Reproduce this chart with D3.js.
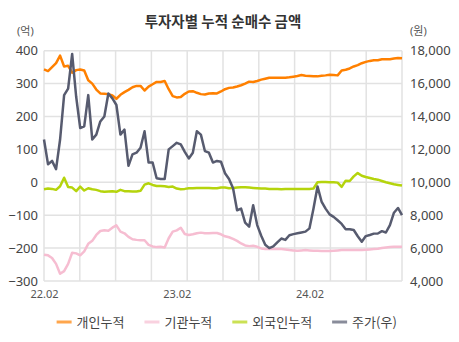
<!DOCTYPE html>
<html>
<head>
<meta charset="utf-8">
<script src="https://cdn.jsdelivr.net/npm/d3@7"></script>
<style>
  body { margin: 0; background: #fff; }
  svg { display: block; }
</style>
</head>
<body>
<svg id="chart" width="459" height="342"></svg>
<script>
// Cumulative net buying (억원) by investor type, plus the share price (원, right axis)
const individual = [343, 338, 350, 362, 385, 352, 354, 333, 341, 343,
  340, 310, 300, 282, 270, 269, 268, 264, 254, 266,
  274, 281, 289, 293, 293, 279, 291, 298, 305, 305,
  308, 283, 262, 258, 259, 269, 276, 277, 272, 268,
  267, 270, 271, 270, 276, 283, 287, 288, 291, 295,
  300, 306, 305, 308, 312, 315, 318, 318, 318, 318,
  318, 319, 321, 323, 326, 324, 323, 322, 322, 324,
  325, 327, 326, 325, 340, 342, 346, 352, 356, 362,
  366, 369, 371, 371, 374, 374, 374, 376, 378, 377];

const institution = [-220, -222, -230, -248, -278, -270, -248, -214, -216, -222,
  -210, -187, -178, -160, -148, -146, -147, -138, -131, -150,
  -155, -166, -173, -175, -176, -176, -190, -195, -197, -196,
  -198, -170, -150, -146, -138, -157, -160, -158, -155, -153,
  -155, -155, -154, -154, -158, -164, -167, -172, -178, -186,
  -192, -194, -193, -196, -201, -203, -203, -203, -203, -203,
  -204, -206, -207, -208, -207, -206, -207, -208, -208, -209,
  -209, -209, -208, -207, -206, -206, -206, -206, -206, -206,
  -205, -204, -203, -202, -200, -198, -197, -196, -196, -196];

const foreign = [-21, -19, -20, -23, -12, 14, -14, -16, -27, -13,
  -25, -18, -21, -23, -27, -29, -28, -27, -29, -23,
  -27, -27, -28, -28, -26, -7, -3, -8, -11, -11,
  -12, -14, -13, -19, -21, -20, -18, -18, -17, -17,
  -17, -17, -18, -18, -16, -16, -18, -17, -16, -15,
  -15, -16, -17, -18, -19, -19, -20, -20, -20, -21,
  -20, -20, -20, -20, -20, -20, -20, -19, 0, 1,
  1, 0, 0, -1, -14, 5, 4, 18, 28, 20,
  16, 13, 10, 8, 4, 0, -3, -6, -8, -10];

const price = [12600, 11100, 11300, 10800, 12600, 15300, 15700, 17800, 15200, 13300,
  13400, 15300, 12600, 12900, 13700, 14000, 15400, 15100, 14700, 12900,
  13200, 11000, 11700, 11800, 12100, 13100, 11200, 11200, 10250, 10200,
  10200, 12000, 12200, 12400, 12300, 11850, 11450, 11800, 13100, 12900,
  11900, 11800, 11200, 11300, 11250, 10550, 10200, 9640, 8300, 8400,
  7550, 7300, 8600, 7400, 6750, 6200, 6000, 6100, 6350, 6580,
  6500, 6780, 6850, 6900, 6950, 7000, 7200, 8400, 9750, 8830,
  8400, 8050, 7900, 7690, 7470, 7150, 7150, 7100, 6720, 6390,
  6730, 6800, 6880, 6890, 7030, 6950, 7400, 8150, 8440, 8010];

const leftTicks = [400, 300, 200, 100, 0, -100, -200, -300];
const rightTicks = [18000, 16000, 14000, 12000, 10000, 8000, 6000, 4000];
const xTickLabels = ["22.02", "23.02", "24.02"];
const xTickIndex = [0, 33, 66];
const seriesNames = ["개인누적", "기관누적", "외국인누적", "주가(우)"];
const seriesColors = ["#ff8000", "#f6bdd1", "#b5d40c", "#575b6f"];

const svg = d3.select("#chart");
const FONT = "'Noto Sans', 'Noto Sans CJK KR', sans-serif";
const N = individual.length;

const plot = { left: 44, right: 402, top: 50.7, bottom: 281 };

const x = d3.scaleLinear().domain([0, N - 1]).range([plot.left, plot.right]);
const yL = d3.scaleLinear().domain([-300, 400]).range([plot.bottom, plot.top]);
const yR = d3.scaleLinear().domain([4000, 18000]).range([plot.bottom, plot.top]);

// Title
svg.append("text")
  .attr("x", 223).attr("y", 27)
  .attr("text-anchor", "middle")
  .attr("font-family", "'Noto Sans CJK KR', sans-serif")
  .attr("font-weight", "bold")
  .attr("font-size", 14.5)
  .attr("fill", "#333")
  .text("투자자별 누적 순매수 금액");

// Unit labels
svg.append("text").attr("x", 17).attr("y", 35)
  .attr("font-family", FONT).attr("font-size", 11).attr("fill", "#555").text("(억)");
svg.append("text").attr("x", 410).attr("y", 35)
  .attr("font-family", FONT).attr("font-size", 11).attr("fill", "#555").text("(원)");

// Grid
const grid = svg.append("g").attr("stroke", "#e2e2e2").attr("stroke-width", 1.5);
leftTicks.forEach(t => {
  grid.append("line")
    .attr("x1", plot.left).attr("x2", plot.right)
    .attr("y1", yL(t)).attr("y2", yL(t));
});
d3.range(11).forEach(k => {
  const xv = x(k * (N - 1) / 10);
  grid.append("line")
    .attr("x1", xv).attr("x2", xv)
    .attr("y1", plot.top).attr("y2", plot.bottom);
});

// Left axis
const leftAxis = d3.axisLeft(yL).tickValues(leftTicks).tickSize(0).tickPadding(6);
const gL = svg.append("g").attr("transform", `translate(${plot.left},0)`).call(leftAxis);
gL.select(".domain").remove();
gL.selectAll("text").attr("font-family", FONT).attr("font-size", 13).attr("fill", "#444");

// Right axis
const rightAxis = d3.axisRight(yR).tickValues(rightTicks).tickSize(0).tickPadding(8)
  .tickFormat(d3.format(","));
const gR = svg.append("g").attr("transform", `translate(${plot.right},0)`).call(rightAxis);
gR.select(".domain").remove();
gR.selectAll("text").attr("font-family", FONT).attr("font-size", 13).attr("fill", "#444");

// Bottom axis
const bottomAxis = d3.axisBottom(x).tickValues(xTickIndex).tickSize(0).tickPadding(9)
  .tickFormat((d, i) => xTickLabels[i]);
const gB = svg.append("g").attr("transform", `translate(0,${plot.bottom})`).call(bottomAxis);
gB.select(".domain").remove();
gB.selectAll("text").attr("font-family", FONT).attr("font-size", 11).attr("fill", "#555");

// Lines
const lineL = d3.line().x((d, i) => x(i)).y(d => yL(d));
const lineR = d3.line().x((d, i) => x(i)).y(d => yR(d));
const seriesData = [individual, institution, foreign, price];
seriesData.forEach((s, k) => {
  svg.append("path")
    .datum(s)
    .attr("fill", "none")
    .attr("stroke", seriesColors[k])
    .attr("stroke-width", 2.5)
    .attr("stroke-linejoin", "round")
    .attr("d", k === 3 ? lineR : lineL);
});

// Legend
const legend = svg.append("g");
const items = [];
let cx = 0;
seriesNames.forEach((name, k) => {
  const g = legend.append("g");
  g.append("line")
    .attr("x1", 0).attr("x2", 15).attr("y1", 0).attr("y2", 0)
    .attr("stroke", seriesColors[k]).attr("stroke-width", 3)
    .attr("stroke-opacity", 0.7);
  const t = g.append("text")
    .attr("x", 20).attr("y", 0).attr("dy", "0.35em")
    .attr("font-family", "'Noto Sans CJK KR', sans-serif")
    .attr("font-size", 13).attr("fill", "#444")
    .text(name);
  const w = 20 + t.node().getComputedTextLength();
  g.attr("transform", `translate(${cx},322)`);
  cx += w + 20;
});
const totalW = cx - 20;
legend.attr("transform", `translate(${226.7 - totalW / 2},0)`);
</script>
</body>
</html>
